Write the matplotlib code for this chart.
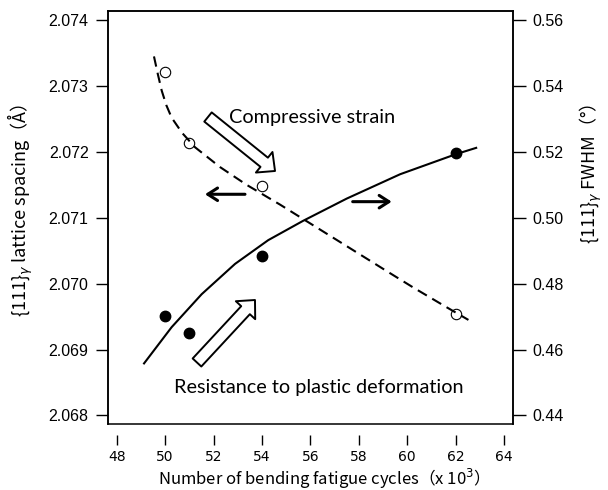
import matplotlib
matplotlib.use("Agg")
import matplotlib.pyplot as plt
from matplotlib.patches import FancyArrowPatch

# measured points
cycles = [50, 51, 54, 62]
lattice_spacing = [2.07321, 2.07213, 2.07148, 2.06954]
fwhm = [0.4703, 0.4649, 0.4885, 0.5197]

# fitted trend lines
lattice_fit_x = [49.54, 49.70, 49.86, 50.05, 50.27, 50.70, 51.24, 52.27, 53.37,
                 54.75, 55.71, 57.50, 59.29, 60.26, 61.64, 62.53]
lattice_fit_y = [2.07345, 2.07318, 2.07293, 2.07271, 2.07252, 2.07229, 2.07207,
                 2.07177, 2.07150, 2.07120, 2.07098, 2.07057, 2.07016, 2.06994,
                 2.06964, 2.06945]
fwhm_fit_x = [49.13, 50.27, 51.51, 52.89, 54.26, 55.71, 57.50, 59.71, 62.02, 62.85]
fwhm_fit_y = [0.4558, 0.4668, 0.4768, 0.4860, 0.4932, 0.4991, 0.5058, 0.5132,
              0.5193, 0.5212]

x_ticks = [48, 50, 52, 54, 56, 58, 60, 62, 64]
left_ticks = [2.068, 2.069, 2.070, 2.071, 2.072, 2.073, 2.074]
right_ticks = [0.44, 0.46, 0.48, 0.50, 0.52, 0.54, 0.56]

note_font = ["Lato", "Noto Sans CJK JP", "DejaVu Sans"]
axis_font = "Noto Sans CJK JP"
tick_font = "Liberation Sans"

fig = plt.figure(figsize=(6.08, 4.90), dpi=100)
ax = fig.add_axes([0.1776, 0.1347, 0.6657, 0.8429])
ax2 = ax.twinx()

ax.plot(lattice_fit_x, lattice_fit_y, color="black", lw=1.5, dashes=(5, 3))
ax.plot(cycles, lattice_spacing, "o", ms=7.5, mfc="none", mec="black", mew=0.8)
ax2.plot(fwhm_fit_x, fwhm_fit_y, color="black", lw=1.5)
ax2.plot(cycles, fwhm, "o", ms=7.5, color="black")

ax.set_xlim(47.64, 64.36)
ax.set_ylim(2.06787, 2.07414)
ax2.set_ylim(0.43742, 0.56273)

ax.set_xticks(x_ticks)
ax.set_yticks(left_ticks)
ax.set_yticklabels([f"{v:.3f}" for v in left_ticks])
ax2.set_yticks(right_ticks)
ax2.set_yticklabels([f"{v:.2f}" for v in right_ticks])

for a in (ax, ax2):
    for s in a.spines.values():
        s.set_linewidth(1.1)
    for lab in a.get_xticklabels() + a.get_yticklabels():
        lab.set_fontfamily(tick_font)
        lab.set_fontsize(11.5)

# x ticks sit below the frame, detached from it
ax.spines["bottom"].set_position(("outward", 8))
ax.spines["bottom"].set_visible(False)
ax.plot([0, 1], [0, 0], transform=ax.transAxes, color="black", lw=1.1, clip_on=False)
ax2.spines["bottom"].set_visible(False)

ax.tick_params(axis="x", direction="out", length=7.5, width=1, pad=3)
ax.tick_params(axis="y", direction="out", length=9, width=1, pad=5)
ax2.tick_params(axis="y", direction="out", length=9, width=1, pad=5)

# hollow block arrows
block = "simple,head_length=10,head_width=19,tail_width=8.5"
ax.add_patch(FancyArrowPatch(
    (0.2471, 0.7433), (0.4127, 0.6126), transform=ax.transAxes,
    arrowstyle=block, mutation_scale=1, shrinkA=0, shrinkB=0,
    fc="white", ec="black", lw=1.4))
ax.add_patch(FancyArrowPatch(
    (0.2199, 0.1489), (0.3632, 0.3002), transform=ax.transAxes,
    arrowstyle=block, mutation_scale=1, shrinkA=0, shrinkB=0,
    fc="white", ec="black", lw=1.4))

# axis pointers
pointer = "->,head_length=7,head_width=4.5"
ax.add_patch(FancyArrowPatch(
    (0.3385, 0.5562), (0.2397, 0.5562), transform=ax.transAxes,
    arrowstyle=pointer, mutation_scale=1, shrinkA=0, shrinkB=0,
    color="black", lw=2.2))
ax.add_patch(FancyArrowPatch(
    (0.6046, 0.5383), (0.7010, 0.5383), transform=ax.transAxes,
    arrowstyle=pointer, mutation_scale=1, shrinkA=0, shrinkB=0,
    color="black", lw=2.2))

ax.text(0.299, 0.7295, "Compressive strain", transform=ax.transAxes,
        ha="left", va="baseline", fontsize=14.3, family=note_font)
ax.text(0.5197, 0.0743, "Resistance to plastic deformation", transform=ax.transAxes,
        ha="center", va="baseline", fontsize=14.3, family=note_font)

fig.text(20 / 608, 1 - 210 / 490, "{111}$_{\\gamma}$ lattice spacing（Å）",
         rotation=90, ha="center", va="center", fontsize=13, family=axis_font)
fig.text(591 / 608, 1 - 174 / 490, "{111}$_{\\gamma}$ FWHM（°）",
         rotation=90, ha="center", va="center", fontsize=13, family=axis_font)
fig.text(319.5 / 608, 1 - 479 / 490, "Number of bending fatigue cycles（x 10$^3$）",
         ha="center", va="center", fontsize=12, family=axis_font)

fig.savefig("out.png", dpi=100)
